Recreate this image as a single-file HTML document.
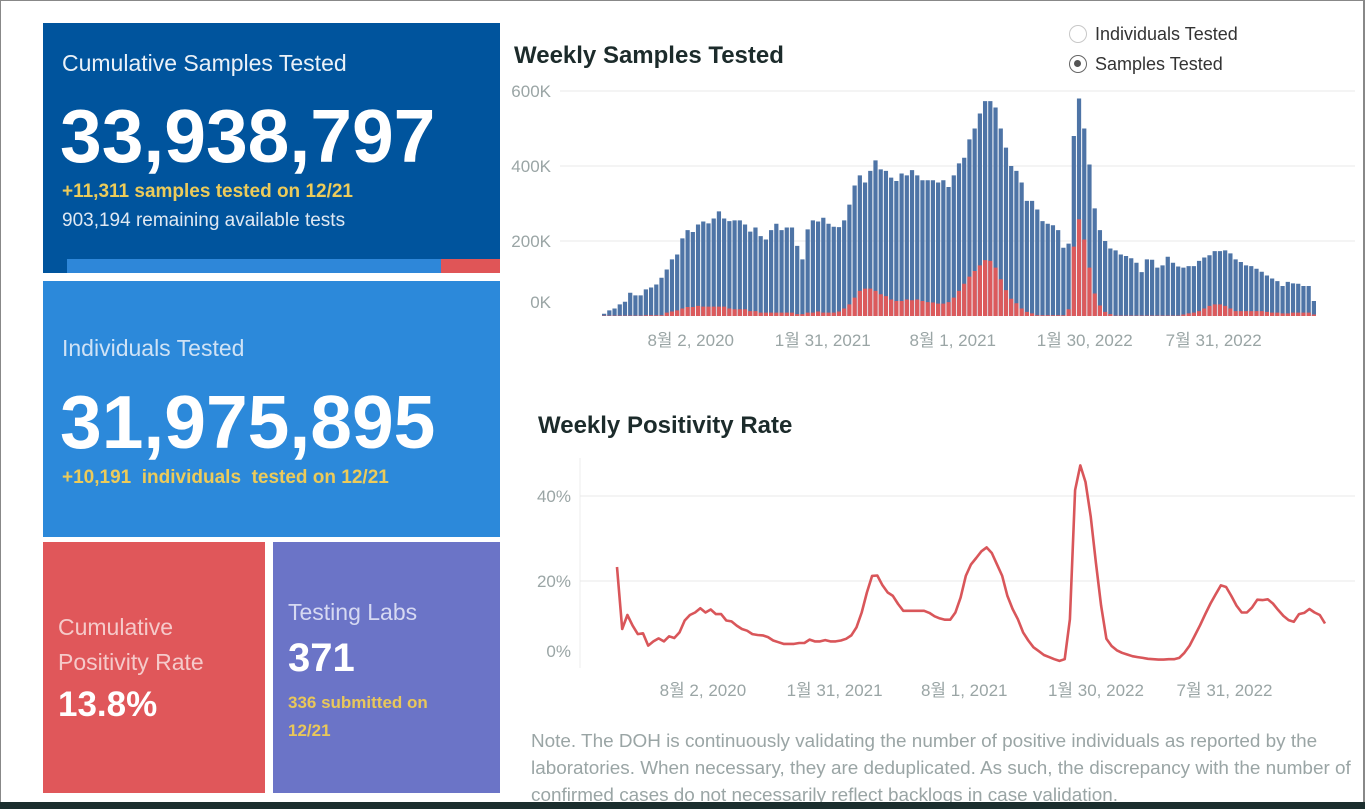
<!DOCTYPE html>
<html><head><meta charset="utf-8">
<style>
html,body{margin:0;padding:0;width:1365px;height:809px;overflow:hidden;background:#fff;font-family:"Liberation Sans","Noto Sans CJK KR",sans-serif;}
#page{position:absolute;left:0;top:0;width:1365px;height:809px;}
#frame{position:absolute;left:0;top:0;width:1365px;height:809px;box-sizing:border-box;border-left:1px solid #888;border-top:1px solid #888;border-right:2px solid #888;}
.tile{position:absolute;color:#fff;}
.t{position:absolute;white-space:nowrap;}
#bottom-strip{position:absolute;left:0;top:802px;width:1365px;height:7px;background:#1b2e2e;}
</style></head><body>
<div id="page">
<div id="frame"></div>
<div class="tile" style="left:43px;top:23px;width:457px;height:250px;background:#00549d;">
  <div class="t" style="left:19px;top:27px;font-size:23px;color:#eaf1f8;">Cumulative Samples Tested</div>
  <div class="t" style="left:17px;top:70px;font-size:75px;font-weight:bold;">33,938,797</div>
  <div class="t" style="left:19px;top:158px;font-size:19px;font-weight:bold;color:#eccb5a;">+11,311 samples tested on 12/21</div>
  <div class="t" style="left:19px;top:187px;font-size:19px;color:#dfe8f2;">903,194 remaining available tests</div>
  <div style="position:absolute;left:24px;top:236px;width:374px;height:14px;background:#2e87d9;"></div>
  <div style="position:absolute;left:398px;top:236px;width:59px;height:14px;background:#e05557;"></div>
</div>
<div class="tile" style="left:43px;top:281px;width:457px;height:256px;background:#2c89da;">
  <div class="t" style="left:19px;top:54px;font-size:23px;color:#cfe2f5;">Individuals Tested</div>
  <div class="t" style="left:17px;top:98px;font-size:75px;font-weight:bold;">31,975,895</div>
  <div class="t" style="left:19px;top:186px;font-size:19px;font-weight:bold;color:#eccb5a;">+10,191&nbsp; individuals&nbsp; tested on 12/21</div>
</div>
<div class="tile" style="left:43px;top:542px;width:222px;height:251px;background:#e0575a;">
  <div class="t" style="left:15px;top:68px;font-size:23px;line-height:35px;color:#f5caca;">Cumulative<br>Positivity Rate</div>
  <div class="t" style="left:15px;top:143px;font-size:35px;font-weight:bold;">13.8%</div>
</div>
<div class="tile" style="left:273px;top:542px;width:227px;height:251px;background:#6b74c7;">
  <div class="t" style="left:15px;top:57px;font-size:23px;color:#d6d9f2;">Testing Labs</div>
  <div class="t" style="left:15px;top:94px;font-size:40px;font-weight:bold;">371</div>
  <div class="t" style="left:15px;top:147px;font-size:17px;line-height:28px;font-weight:bold;color:#e9c75a;">336 submitted on<br>12/21</div>
</div>

<div class="t" style="left:514px;top:42px;font-size:24px;font-weight:bold;color:#1c2b2b;">Weekly Samples Tested</div>
<div class="t" style="left:538px;top:412px;font-size:24px;font-weight:bold;color:#1c2b2b;">Weekly Positivity Rate</div>

<div style="position:absolute;left:1069px;top:24px;">
  <div style="position:absolute;left:0;top:1px;width:18px;height:18px;border:1.5px solid #c8c8c8;border-radius:50%;box-sizing:border-box;"></div>
  <div class="t" style="left:26px;top:0;font-size:18px;color:#333;">Individuals Tested</div>
</div>
<div style="position:absolute;left:1069px;top:54px;">
  <div style="position:absolute;left:0;top:1px;width:18px;height:18px;border:1.5px solid #666;border-radius:50%;box-sizing:border-box;"><div style="position:absolute;left:4px;top:4px;width:7px;height:7px;border-radius:50%;background:#555;"></div></div>
  <div class="t" style="left:26px;top:0;font-size:18px;color:#333;">Samples Tested</div>
</div>

<svg id="charts" width="1365" height="809" style="position:absolute;left:0;top:0;"></svg>

<div class="t" style="left:531px;top:728px;font-size:18.9px;line-height:27px;color:#9aa5a5;white-space:normal;width:830px;">Note. The DOH is continuously validating the number of positive individuals as reported by the laboratories. When necessary, they are deduplicated. As such, the discrepancy with the number of confirmed cases do not necessarily reflect backlogs in case validation.</div>
</div>
<div id="bottom-strip"></div>

<script>
const samplesK = [6,15,20,31,38,62,55,55,71,76,84,102,124,151,164,207,229,224,244,252,247,260,279,260,253,255,255,244,225,236,213,204,229,246,229,236,236,187,151,231,255,252,262,246,238,237,255,297,348,375,356,387,415,391,387,369,360,380,375,389,375,362,362,362,356,362,344,375,407,422,471,500,540,573,573,556,500,449,400,387,356,307,307,284,253,246,242,229,182,193,480,580,500,404,287,229,200,180,175,164,160,154,142,117,151,150,129,135,158,142,132,129,133,133,147,156,162,173,173,175,167,151,144,135,133,126,118,108,100,93,80,91,87,86,80,80,40];
const positivesK = [1,1,1,1,1,1,1,1,2,2,2,2,9,12,15,20,24,24,27,25,25,25,25,25,20,18,18,18,13,13,9,9,9,9,9,9,9,5,5,9,9,12,9,9,9,12,20,31,49,67,73,73,67,58,53,44,40,40,44,42,44,40,37,36,33,33,37,49,67,86,105,120,135,149,147,129,98,69,46,34,20,11,7,2,2,2,2,2,2,18,185,258,204,129,60,28,11,5,1,1,1,1,1,1,1,1,1,1,1,1,1,4,7,9,13,20,27,31,31,27,20,13,13,13,13,13,13,11,9,9,7,7,9,9,9,9,4];
const positivityPct = [23.3,8.7,12,9.5,7.5,7.7,4.8,5.8,6.5,5.8,7,6.6,7.9,10.7,12,12.6,13.6,12.6,13.3,12.2,12.2,10.7,10.5,9.5,8.7,8.3,7.5,7.3,7.2,6.8,6,5.6,5.2,5.2,5.2,5.4,5.4,6.2,5.8,5.8,6.1,5.8,5.8,6,6.4,7.2,9.1,12.6,17.3,21.2,21.3,19,17.3,16.5,14.6,13,13,13,13,13,12.5,11.7,11.2,10.9,10.9,12.6,16.1,21.2,23.9,25.4,27,27.9,26.6,23.9,21.2,16.5,13.4,11,7.9,6,4.4,3.5,2.6,2.1,1.6,1.2,1.6,11,41.4,47.2,43.3,35.2,24.3,14.2,6.4,4.7,3.7,3.1,2.7,2.3,2.1,1.9,1.7,1.6,1.5,1.5,1.6,1.6,1.9,3.1,4.8,7.2,9.6,12.2,14.7,16.9,19,18.6,16.5,14.2,12.6,12.6,13.8,15.6,15.5,15.7,14.7,13.2,11.8,10.8,10.4,12.2,12.5,13.4,12.6,12,10];
const dateLabels = ["8월 2, 2020","1월 31, 2021","8월 1, 2021","1월 30, 2022","7월 31, 2022"];
const dateLabelIdx = [16.5,41.8,66.7,92,116.7];
const samplesTicks = [0,200,400,600];
const samplesTickLabels = ["0K","200K","400K","600K"];
const pctTicks = [0,20,40];
const pctTickLabels = ["0%","20%","40%"];

const NS="http://www.w3.org/2000/svg";
const svg=document.getElementById('charts');
function mk(tag,attrs,parent){const e=document.createElementNS(NS,tag);for(const k in attrs)e.setAttribute(k,attrs[k]);(parent||svg).appendChild(e);return e;}
const n=samplesK.length;
const bx0=602,bx1=1317,by0=316,byTop=91;
const bStep=(bx1-bx0)/n;
const bx=i=>bx0+i*bStep;
const by=v=>by0-(v/600)*(by0-byTop);
samplesTicks.forEach((t,k)=>{
  if(t>0){const g=mk('line',{x1:560,x2:1355,y1:by(t),y2:by(t),stroke:'#e8e8e8','stroke-width':1});
  
  }
  const tx=mk('text',{x:551,y:(t===0?by(t)-8:by(t)+6),'text-anchor':'end','font-size':17,fill:'#9aa5a5'});
  tx.textContent=samplesTickLabels[k];
  
  
});
samplesK.forEach((v,i)=>{
  const r=mk('rect',{x:bx(i),y:by(v),width:bStep-1,height:by0-by(v),fill:'#4e74a6'});
  
  
  const p=positivesK[i];
  const r2=mk('rect',{x:bx(i),y:by(p),width:bStep-1,height:by0-by(p),fill:'#dc5a5c'});
  
  
});
dateLabels.forEach((d,k)=>{
  const tx=mk('text',{x:bx(dateLabelIdx[k])+bStep/2,y:346,'text-anchor':'middle','font-size':17,fill:'#9aa5a5'});
  tx.textContent=d;
  
  
});
const lx0=617,lx1=1325,ly0=666,ly40=496;
const lStep=(lx1-lx0)/(n-1);
const lx=i=>lx0+i*lStep;
const ly=v=>ly0-(v/40)*(ly0-ly40);
mk('line',{x1:580,x2:580,y1:458,y2:668,stroke:'#eee','stroke-width':1});
pctTicks.forEach((t,k)=>{
  if(t>0){const g=mk('line',{x1:580,x2:1355,y1:ly(t),y2:ly(t),stroke:'#e8e8e8','stroke-width':1});
  
  }
  const tx=mk('text',{x:571,y:(t===0?ly(t)-9:ly(t)+6),'text-anchor':'end','font-size':17,fill:'#9aa5a5'});
  tx.textContent=pctTickLabels[k];
  
  
});
const pts=positivityPct.map((v,i)=>lx(i).toFixed(1)+','+ly(v).toFixed(1)).join(' ');
const pl=mk('polyline',{points:pts,fill:'none',stroke:'#d9565a','stroke-width':2.6,'stroke-linejoin':'round'});


dateLabels.forEach((d,k)=>{
  const tx=mk('text',{x:lx(dateLabelIdx[k]),y:696,'text-anchor':'middle','font-size':17,fill:'#9aa5a5'});
  tx.textContent=d;
  
  
});
</script>
</body></html>
